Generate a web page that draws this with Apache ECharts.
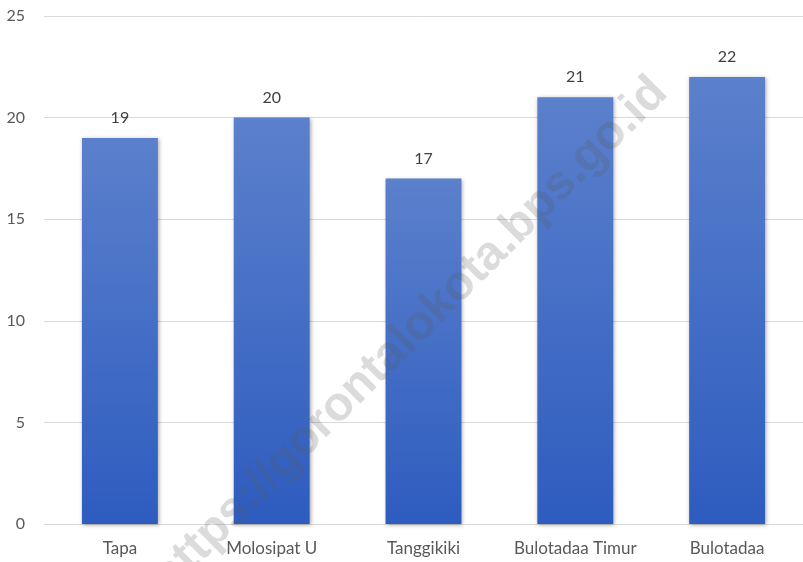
<!DOCTYPE html>
<html>
<head>
<meta charset="utf-8">
<script src="https://cdn.jsdelivr.net/npm/echarts@6/dist/echarts.min.js"></script>
<style>
html,body{margin:0;padding:0;background:#fff;}
#chart{width:803px;height:562px;}
</style>
</head>
<body>
<div id="chart"></div>
<script>
var categories = ["Tapa", "Molosipat U", "Tanggikiki", "Bulotadaa Timur", "Bulotadaa"];
var values = [19, 20, 17, 21, 22];
var yTicks = [0, 5, 10, 15, 20, 25];
var watermark = "https://gorontalokota.bps.go.id";

var chart = echarts.init(document.getElementById('chart'));
chart.setOption({
  animation: false,
  backgroundColor: '#ffffff',
  grid: { left: 44, right: -9, top: 16, bottom: 38, containLabel: false },
  xAxis: {
    type: 'category',
    data: categories,
    axisLine: { show: true, lineStyle: { color: '#d9d9d9', width: 1 } },
    axisTick: { show: false },
    axisLabel: { interval: 0, hideOverlap: false, color: '#595959', fontSize: 17, fontFamily: 'Lato', margin: 16 }
  },
  yAxis: {
    type: 'value',
    min: yTicks[0],
    max: yTicks[yTicks.length - 1],
    interval: 5,
    axisLine: { show: false },
    axisTick: { show: false },
    splitLine: { lineStyle: { color: '#d9d9d9', width: 1 } },
    axisLabel: { color: '#595959', fontSize: 16, fontFamily: 'Lato', margin: 19 }
  },
  series: [{
    type: 'bar',
    data: values,
    barWidth: '50%',
    itemStyle: {
      color: new echarts.graphic.LinearGradient(0, 0, 0, 1, [
        { offset: 0, color: '#5b80cc' },
        { offset: 1, color: '#2e5cbf' }
      ]),
      shadowBlur: 4,
      shadowColor: 'rgba(0,0,0,0.35)',
      shadowOffsetX: 1,
      shadowOffsetY: 1
    },
    label: {
      show: true,
      position: 'top',
      distance: 12,
      color: '#404040',
      fontSize: 16,
      fontFamily: 'Lato'
    }
  }],
  graphic: [{
    type: 'text',
    z: 100,
    x: 410,
    y: 335,
    rotation: Math.PI / 4,
    style: {
      text: watermark,
      font: 'bold 48px "Liberation Sans", Arial, sans-serif',
      fill: 'rgba(90,90,90,0.22)',
      textAlign: 'center',
      textVerticalAlign: 'middle'
    }
  }]
});
</script>
</body>
</html>
